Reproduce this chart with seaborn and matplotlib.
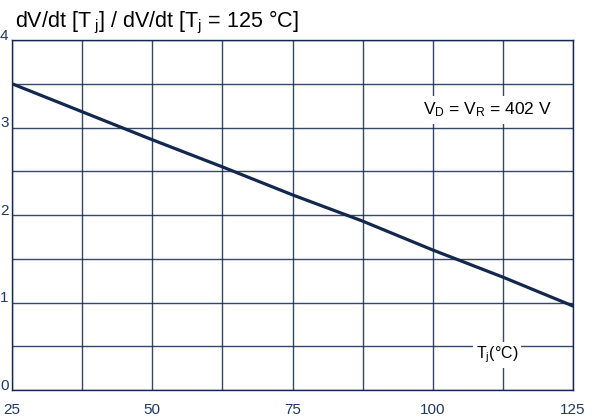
import matplotlib
matplotlib.use("Agg")
import matplotlib.pyplot as plt
import matplotlib.transforms as mtransforms
import numpy as np
import pandas as pd
import seaborn as sns

# junction temperature (°C) and normalized dV/dt
tj = [25, 37.5, 50, 62.5, 75, 87.5, 100, 112.5, 125]
ratio = [3.50, 3.18, 2.86, 2.55, 2.23, 1.93, 1.60, 1.29, 0.96]

x_ticks = [25, 50, 75, 100, 125]
y_ticks = [0, 1, 2, 3, 4]

navy = "#13284f"
label_col = "#1f3864"

sns.set_theme(style="white")
plt.rcParams['font.family'] = ['Liberation Sans', 'DejaVu Sans']
plt.rcParams['mathtext.fontset'] = 'custom'
plt.rcParams['mathtext.rm'] = 'Liberation Sans'
plt.rcParams['mathtext.it'] = 'Liberation Sans'

df = pd.DataFrame({"tj": tj, "ratio": ratio})

fig = plt.figure(figsize=(5.98, 4.18), dpi=100)
ax = fig.add_axes([12 / 598, 28 / 418, 561 / 598, 350 / 418])

sns.lineplot(data=df, x="tj", y="ratio", color=navy, linewidth=2.3, ax=ax, zorder=3)

ax.set_xlim(25, 125)
ax.set_ylim(0, 4)

# grid: every 12.5 °C and every 0.5
ax.set_xticks(np.arange(25, 125.1, 12.5), minor=True)
ax.set_yticks(np.arange(0, 4.01, 0.5), minor=True)
ax.set_xticks(x_ticks)
ax.set_yticks(y_ticks)
ax.grid(which="both", color=navy, linewidth=1.0, alpha=0.85)
ax.set_xticklabels([str(v) for v in x_ticks], fontsize=11, color=label_col)
ax.set_yticklabels([str(v) for v in y_ticks], fontsize=11, color=label_col)
ax.tick_params(axis="both", which="both", length=0)
ax.tick_params(axis="x", pad=9)
ax.tick_params(axis="y", pad=2.5)

# y labels sit slightly above their grid line
offset = mtransforms.ScaledTranslation(0, 4 / 72, fig.dpi_scale_trans)
for lab in ax.get_yticklabels():
    lab.set_transform(lab.get_transform() + offset)

for s in ax.spines.values():
    s.set_color(navy)
    s.set_linewidth(1.0)

ax.set_xlabel("")
ax.set_ylabel("")

fig.text(15 / 598, 1 - 22 / 418,
         "dV/dt [T$_{\\ \\mathrm{j}}$] / dV/dt [T$_\\mathrm{j}$ = 125 °C]",
         fontsize=15.5, color="black", va="center", ha="left")

ax.text(109.7, 3.2, "V$_\\mathrm{D}$ = V$_\\mathrm{R}$ = 402 V", fontsize=12.5,
        color="black", ha="center", va="center", zorder=4,
        bbox=dict(facecolor="white", edgecolor="none", pad=3))
ax.text(111.5, 0.4, "T$_\\mathrm{j}$(°C)", fontsize=11.5, color="black",
        ha="center", va="center", zorder=4,
        bbox=dict(facecolor="white", edgecolor="none", pad=2))

fig.savefig("out.png", dpi=100)
